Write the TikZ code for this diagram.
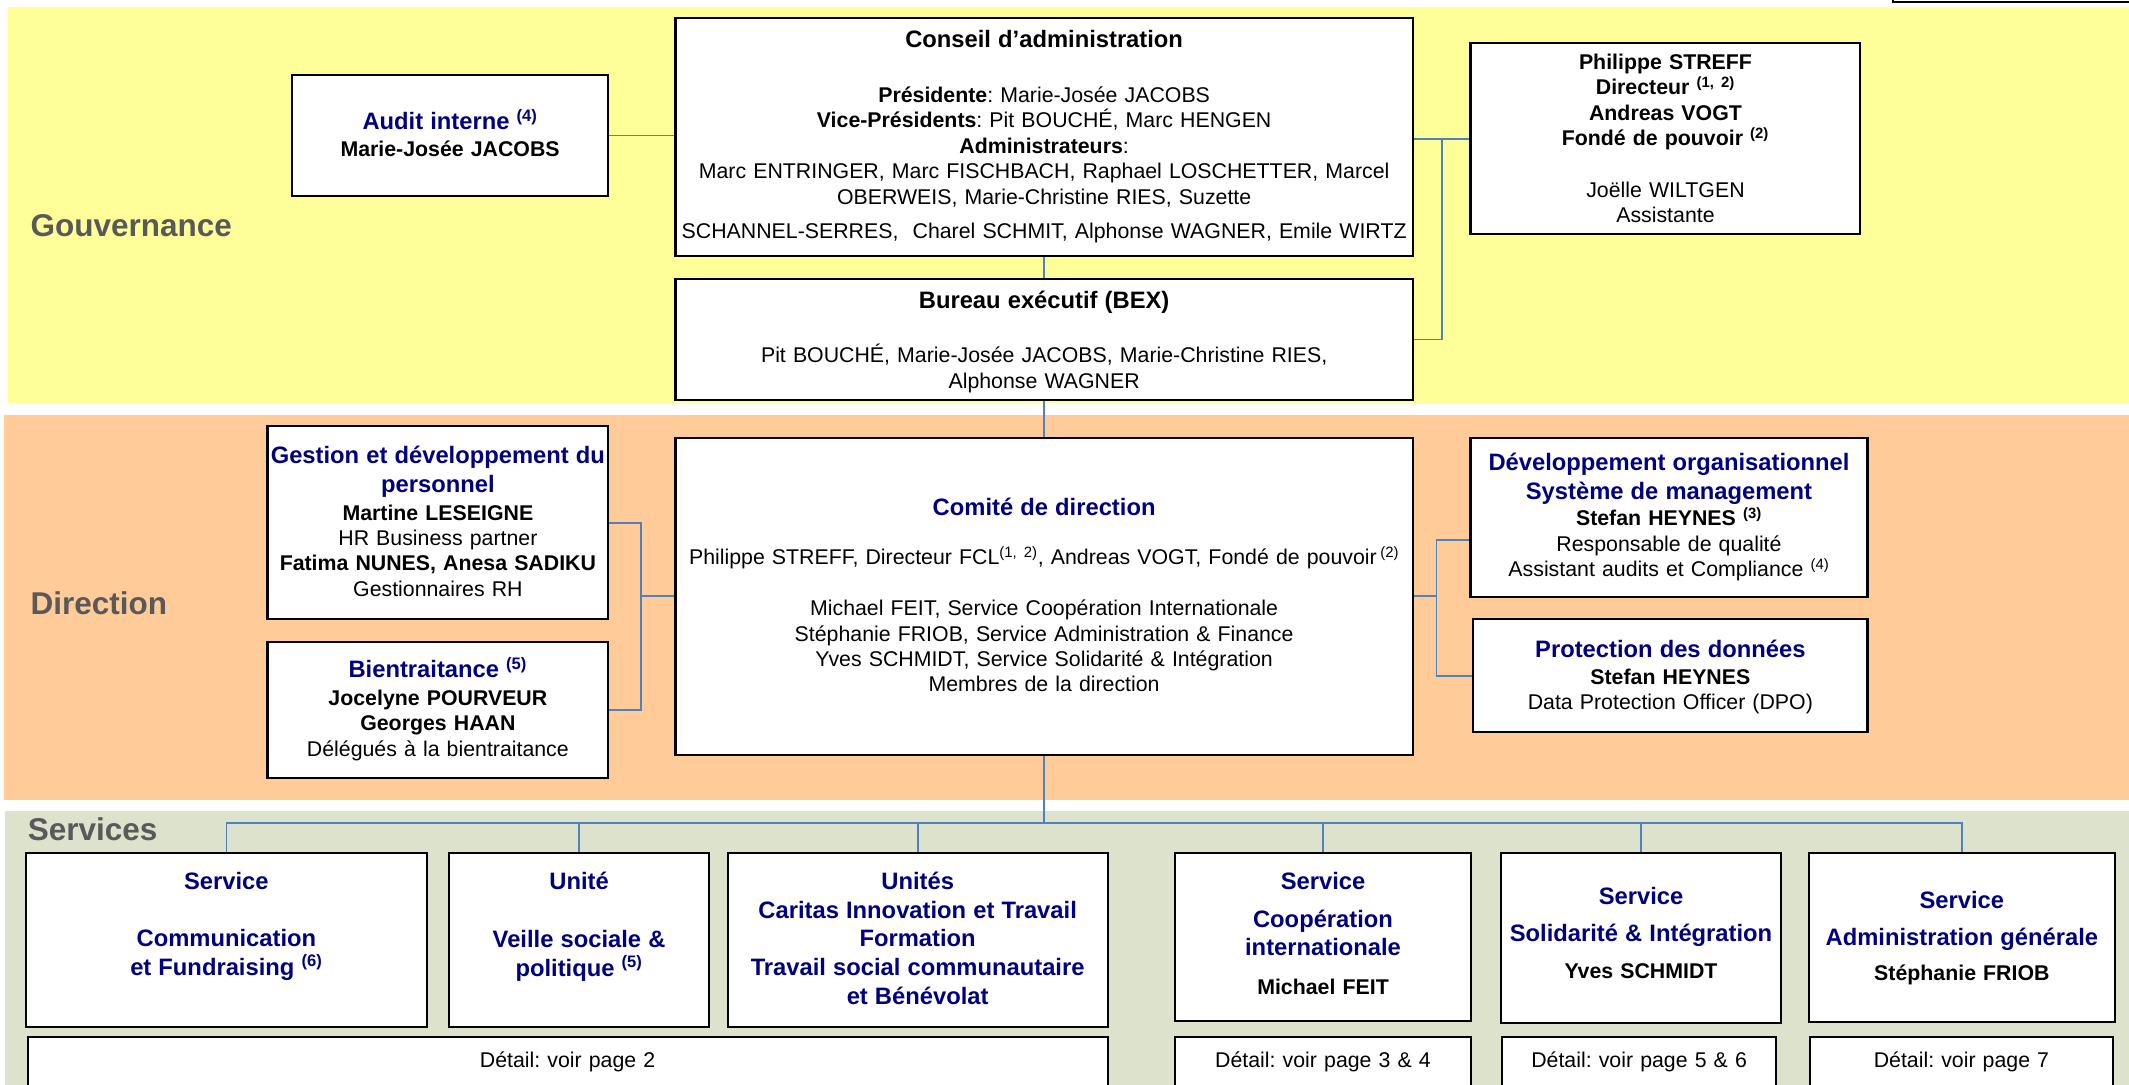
\documentclass[tikz,border=0pt]{standalone}
\usepackage{fontspec}
\setmainfont{Liberation Sans}
\usetikzlibrary{calc}
\frenchspacing
\definecolor{bandY}{HTML}{FFFF99}
\definecolor{bandO}{HTML}{FFCC99}
\definecolor{bandG}{HTML}{DDE2CC}
\definecolor{navyT}{HTML}{000080}
\definecolor{connB}{HTML}{4F81BD}
\definecolor{secG}{HTML}{595959}
\newcommand\fsR{\fontsize{15.7pt}{18.7pt}\selectfont}
\newcommand\ttlB[1]{{\fontsize{17.5pt}{18.7pt}\selectfont\bfseries\color{navyT}#1}}
\newcommand\ttlK[1]{{\fontsize{17.5pt}{18.7pt}\selectfont\bfseries #1}}
\newcommand\nmB[1]{{\bfseries #1}}
\newcommand\supB[1]{\textsuperscript{#1}}
\newcommand\mkbox[5]{\node[orgbox, minimum width={#4-#2}, minimum height={#5-#3}] (#1) at ({(#2+#4)/2},{(#3+#5)/2}) {};}
\tikzset{
  orgbox/.style={draw=black, line width=1.5pt, fill=white, inner sep=0pt},
  conn/.style={draw=connB, line width=1.25pt},
  txt/.style={text width=800pt, align=center, inner sep=0pt, anchor=base, font=\fsR},
  sect/.style={anchor=base west, inner sep=0pt, font=\fontsize{23.2pt}{27pt}\selectfont\bfseries, text=secG},
}
\begin{document}
\begin{tikzpicture}[x=1pt,y=-1pt]
\useasboundingbox (0,0) rectangle (1568,799.1);
% bands
\fill[bandY] (5.9,4.9) rectangle (1570,297.1);
\fill[bandO] (2.6,305.6) rectangle (1570,589.2);
\fill[bandG] (3.4,597) rectangle (1570,810);
\draw[black, line width=1.5pt, fill=white] (1394,-10) rectangle (1580,1.2);
% section labels
\node[sect] (lgov) at (22.4,174) {Gouvernance};
\node[sect] (ldir) at (22.3,452.7) {Direction};
\node[sect] (lser) at (20.3,619.1) {Services};
% boxes
\mkbox{audit}{215}{55}{448}{144.5}
\mkbox{conseil}{497.5}{13.5}{1040.5}{188.6}
\mkbox{bureau}{497.5}{205.7}{1040.5}{294.6}
\mkbox{dirbox}{1083}{31.9}{1370.2}{172.6}
\mkbox{gestion}{197}{313.8}{448}{456.2}
\mkbox{bient}{197}{472.6}{448}{572.8}
\mkbox{comite}{497.5}{322.3}{1040.5}{556.1}
\mkbox{devorg}{1083}{322.3}{1375.4}{439.5}
\mkbox{protect}{1085}{455.9}{1375.4}{539.4}
\mkbox{scomm}{19.3}{628.4}{314.2}{756.6}
\mkbox{sveille}{331}{628.4}{521.9}{756.6}
\mkbox{sunites}{535.9}{628.4}{815.8}{756.6}
\mkbox{scoop}{865.7}{628.4}{1083.1}{752}
\mkbox{ssolid}{1105.7}{628.4}{1311.5}{753.7}
\mkbox{sadmin}{1332}{628.4}{1557.8}{752.4}
\mkbox{det1}{20.3}{763.5}{815.8}{830}
\mkbox{det2}{865.7}{763.5}{1083.1}{830}
\mkbox{det3}{1106.3}{763.5}{1308.1}{830}
\mkbox{det4}{1333.1}{763.5}{1556.1}{830}
% connectors
\coordinate (bxA) at (1061.8,250);
\coordinate (bxB) at (1058,440);
\coordinate (bxC) at (472,440);
\coordinate (bus) at (769,605.9);
\coordinate (devin) at ([yshift=-16.8pt]devorg.west);
\draw[conn] (audit.east) -- (audit.east -| conseil.west);
\draw[conn] (conseil.south) -- (bureau.north);
\draw[conn] (dirbox.west -| conseil.east) -- (dirbox.west);
\draw[conn] (bureau.east) -| (bxA |- dirbox.west);
\draw[conn] (bureau.south) -- (comite.north);
\draw[conn] (gestion.east) -| (bxC |- bient.east) -- (bient.east);
\draw[conn] (bxC |- comite.west) -- (comite.west);
\draw[conn] (devin) -| (bxB |- protect.west) -- (protect.west);
\draw[conn] (comite.east) -- (comite.east -| bxB);
\draw[conn] (comite.south) -- (bus);
\draw[conn] (scomm.north) |- (bus) -| (sadmin.north);
\draw[conn] (sveille.north) -- (sveille.north |- bus);
\draw[conn] (sunites.north) -- (sunites.north |- bus);
\draw[conn] (scoop.north) -- (scoop.north |- bus);
\draw[conn] (ssolid.north) -- (ssolid.north |- bus);
% texts
\node[txt] (audit-t) at (331.5,95.5) {\ttlB{Audit interne \supB{(4)}}\\[1pt]\nmB{Marie-Josée JACOBS}};
\node[txt] (conseil-t) at (769,35) {\ttlK{Conseil d’administration}\\[21.8pt]
  \nmB{Présidente}: Marie-Josée JACOBS\\
  \nmB{Vice-Présidents}: Pit BOUCHÉ, Marc HENGEN\\
  \nmB{Administrateurs}:\\
  Marc ENTRINGER, Marc FISCHBACH, Raphael LOSCHETTER, Marcel\\
  OBERWEIS, Marie-Christine RIES, Suzette\\[7pt]
  SCHANNEL-SERRES,\ \ Charel SCHMIT, Alphonse WAGNER, Emile WIRTZ};
\node[txt] (bureau-t) at (769,227) {\ttlK{Bureau exécutif (BEX)}\\[21.6pt]
  Pit BOUCHÉ, Marie-Josée JACOBS, Marie-Christine RIES,\\ Alphonse WAGNER};
\node[txt] (dir-t) at (1226.6,51) {\nmB{Philippe STREFF}\\ \nmB{Directeur \supB{(1, 2)}}\\ \nmB{Andreas VOGT}\\ \nmB{Fondé de pouvoir \supB{(2)}}\\[19.7pt]
  Joëlle WILTGEN\\ Assistante};
\node[txt] (gestion-t) at (322.5,341.5) {\ttlB{Gestion et développement du}\\[2.8pt]\ttlB{personnel}\\[1.3pt]
  \nmB{Martine LESEIGNE}\\ HR Business partner\\ \nmB{Fatima NUNES, Anesa SADIKU}\\ Gestionnaires RH};
\node[txt] (bient-t) at (322.5,499.3) {\ttlB{Bientraitance \supB{(5)}}\\[1.4pt]
  \nmB{Jocelyne POURVEUR}\\ \nmB{Georges HAAN}\\ Délégués à la bientraitance};
\node[txt] (comite-t) at (769,380) {\ttlB{Comité de direction}\\[16.8pt]
  Philippe STREFF, Directeur FCL\supB{(1, 2)}, Andreas VOGT, Fondé de pouvoir\,\supB{(2)}\\[19.3pt]
  Michael FEIT, Service Coopération Internationale\\
  Stéphanie FRIOB, Service Administration \& Finance\\
  Yves SCHMIDT, Service Solidarité \& Intégration\\
  Membres de la direction};
\node[txt] (devorg-t) at (1229.2,346.6) {\ttlB{Développement organisationnel}\\[2.6pt]\ttlB{Système de management}\\[0.7pt]
  \nmB{Stefan HEYNES \supB{(3)}}\\ Responsable de qualité\\ Assistant audits et Compliance \supB{(4)}};
\node[txt] (protect-t) at (1230.2,484) {\ttlB{Protection des données}\\[1.2pt]
  \nmB{Stefan HEYNES}\\ Data Protection Officer (DPO)};
\node[txt] (scomm-t) at (166.75,655) {\ttlB{Service}\\[23.6pt]\ttlB{Communication}\\[2.2pt]\ttlB{et Fundraising \supB{(6)}}};
\node[txt] (sveille-t) at (426.5,655) {\ttlB{Unité}\\[24.3pt]\ttlB{Veille sociale \&}\\[2.2pt]\ttlB{politique \supB{(5)}}};
\node[txt] (sunites-t) at (675.85,655) {\ttlB{Unités}\\[2.5pt]\ttlB{Caritas Innovation et Travail}\\[2.5pt]\ttlB{Formation}\\[2.5pt]\ttlB{Travail social communautaire}\\[2.5pt]\ttlB{et Bénévolat}};
\node[txt] (scoop-t) at (974.4,655) {\ttlB{Service}\\[9.1pt]\ttlB{Coopération}\\[2.2pt]\ttlB{internationale}\\[10.2pt]\nmB{Michael FEIT}};
\node[txt] (ssolid-t) at (1208.6,666.2) {\ttlB{Service}\\[8.8pt]\ttlB{Solidarité \& Intégration}\\[8.1pt]\nmB{Yves SCHMIDT}};
\node[txt] (sadmin-t) at (1444.9,669.3) {\ttlB{Service}\\[8.4pt]\ttlB{Administration générale}\\[7.2pt]\nmB{Stéphanie FRIOB}};
\node[txt] (det1-t) at (418.05,786.5) {Détail: voir page 2};
\node[txt] (det2-t) at (974.4,786.5) {Détail: voir page 3 \& 4};
\node[txt] (det3-t) at (1207.2,786.5) {Détail: voir page 5 \& 6};
\node[txt] (det4-t) at (1444.6,786.5) {Détail: voir page 7};
\end{tikzpicture}
\end{document}
